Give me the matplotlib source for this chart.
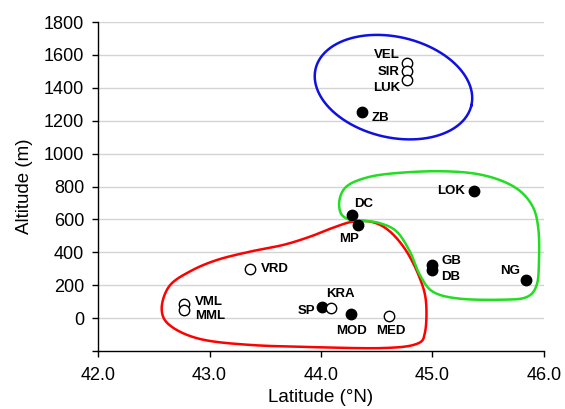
import numpy as np
import matplotlib
matplotlib.use("Agg")
import matplotlib.pyplot as plt

plt.rcParams['font.family'] = ['Liberation Sans', 'DejaVu Sans']

# ---- data ----
names = ["VEL", "SIR", "LUK", "ZB", "VRD", "VML", "MML", "SP", "KRA", "MOD",
         "MED", "DC", "MP", "LOK", "GB", "DB", "NG"]
latitude = [44.77, 44.77, 44.77, 44.37, 43.36, 42.77, 42.77, 44.01, 44.09, 44.27,
            44.61, 44.28, 44.33, 45.37, 45.00, 45.00, 45.84]
altitude = [1550, 1500, 1450, 1250, 300, 85, 50, 70, 60, 25,
            10, 625, 565, 775, 325, 295, 230]
filled = [False, False, False, True, False, False, False, True, False, True,
          False, True, True, True, True, True, True]

x_ticks = [42.0, 43.0, 44.0, 45.0, 46.0]
y_ticks = [-200, 0, 200, 400, 600, 800, 1000, 1200, 1400, 1600, 1800]

# label offsets in points (dx, dy, ha)
label_pos = {
    "VEL": (-5, 5.5, "right"), "SIR": (-5, -0.5, "right"), "LUK": (-5, -6, "right"),
    "ZB": (7, -4, "left"), "VRD": (8, 0, "left"), "VML": (8, 1.5, "left"),
    "MML": (8, -4.5, "left"), "SP": (-5, -3, "right"), "KRA": (-3.5, 10, "left"),
    "MOD": (0, -12, "center"), "MED": (1, -10.5, "center"), "DC": (1.5, 8, "left"),
    "MP": (-6.5, -10, "center"), "LOK": (-6, 0, "right"), "GB": (6.5, 2.5, "left"),
    "DB": (6.5, -5, "left"), "NG": (-4.5, 7, "right"),
}

# ---- group outlines (lat, alt) ----
blue_center = (44.65, 1404)
red_outline = [(44.29, 587), (44.466, 583), (44.619, 526), (44.769, 404), (44.888, 240),
               (44.942, 98), (44.933, -86), (44.858, -157), (44.559, -182), (43.961, -177),
               (43.363, -163), (42.915, -127), (42.646, -45), (42.571, 57), (42.64, 195),
               (42.825, 284), (43.065, 353), (43.363, 404), (43.662, 445), (43.901, 495),
               (44.11, 550)]
green_outline = [(44.29, 591), (44.186, 628), (44.164, 709), (44.215, 791), (44.35, 842),
                 (44.589, 876), (45.038, 893), (45.426, 873), (45.725, 801), (45.89, 689),
                 (45.949, 546), (45.955, 343), (45.934, 200), (45.845, 128), (45.635, 112),
                 (45.247, 118), (45.007, 159), (44.888, 261), (44.798, 404), (44.679, 526),
                 (44.529, 577), (44.38, 591)]


def closed_catmull_rom(pts, n=30):
    p = np.asarray(pts, float)
    m = len(p)
    out = []
    for i in range(m):
        p0, p1, p2, p3 = p[(i - 1) % m], p[i], p[(i + 1) % m], p[(i + 2) % m]
        t = np.linspace(0, 1, n, endpoint=False)[:, None]
        seg = 0.5 * ((2 * p1) + (-p0 + p2) * t + (2 * p0 - 5 * p1 + 4 * p2 - p3) * t ** 2
                     + (-p0 + 3 * p1 - 3 * p2 + p3) * t ** 3)
        out.append(seg)
    out = np.vstack(out)
    return np.vstack([out, out[:1]])


fig = plt.figure(figsize=(5.65, 4.09), dpi=100)
ax = fig.add_axes([0.1735, 0.1418, 0.7893, 0.8044])
ax.set_xlim(42.0, 46.0)
ax.set_ylim(-200, 1800)

for yv in y_ticks[1:]:
    ax.axhline(yv, color="#d4d4d4", lw=1.0, zorder=0)

# blue ellipse defined in pixel-like units then converted to data
px_per_lat = 111.5
px_per_alt = 0.1635
a_px, b_px, ang = 80, 50, np.deg2rad(-13)
t = np.linspace(0, 2 * np.pi, 300)
ex = a_px * np.cos(t) * np.cos(ang) - b_px * np.sin(t) * np.sin(ang)
ey = a_px * np.cos(t) * np.sin(ang) + b_px * np.sin(t) * np.cos(ang)
ax.plot(blue_center[0] + ex / px_per_lat, blue_center[1] + ey / px_per_alt,
        color="#1010e0", lw=1.8, zorder=2)

r = closed_catmull_rom(red_outline)
ax.plot(r[:, 0], r[:, 1], color="#ff0000", lw=1.8, zorder=2)
g = closed_catmull_rom(green_outline)
ax.plot(g[:, 0], g[:, 1], color="#22dd22", lw=1.8, zorder=2)

for nm, la, al, f in zip(names, latitude, altitude, filled):
    ax.plot(la, al, "o", ms=7.5, mfc="black" if f else "white", mec="black",
            mew=1.0, zorder=4)
    dx, dy, ha = label_pos[nm]
    ax.annotate(nm, (la, al), xytext=(dx, dy), textcoords="offset points",
                ha=ha, va="center", fontsize=9.5, fontweight="bold", zorder=5)

ax.set_xticks(x_ticks)
ax.set_xticklabels([f"{v:.1f}" for v in x_ticks])
ax.set_yticks(y_ticks)
ax.set_yticklabels(["" if v < 0 else str(v) for v in y_ticks])
ax.tick_params(direction="out", length=4, width=1, labelsize=13, pad=6)
ax.tick_params(axis="x", pad=7.5)
for s in ["top", "right"]:
    ax.spines[s].set_visible(False)
for s in ["left", "bottom"]:
    ax.spines[s].set_linewidth(1.0)

ax.set_xlabel("Latitude (°N)", fontsize=13.5, labelpad=3.5)
ax.set_ylabel("Altitude (m)", fontsize=13.5, labelpad=8)

fig.savefig("out.png", dpi=100)
